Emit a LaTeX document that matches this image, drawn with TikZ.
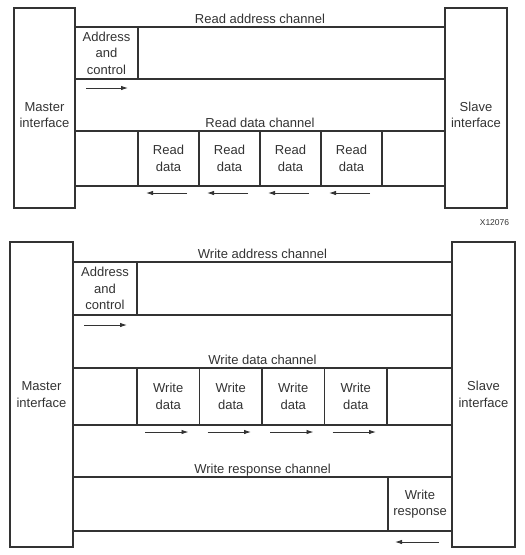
\documentclass[tikz,border=0pt]{standalone}
\usepackage{fontspec}
\setmainfont{Liberation Sans}
\usetikzlibrary{positioning, arrows.meta}

\begin{document}
\begin{tikzpicture}[
    x=1pt, y=-1pt,
    every node/.style={font=\fontsize{13}{16.5}\selectfont, text=black!80},
    iface/.style={rectangle, draw=black!80, line width=1.1pt, align=center, inner sep=0pt, outer sep=0pt},
    packet/.style={rectangle, draw=black!80, line width=1.1pt, align=center, inner sep=0pt, outer sep=0pt, minimum height=55pt},
    chan/.style={draw=black!80, line width=1.1pt},
    chanlabel/.style={above, text depth=0pt},
    flow/.style={black!80, line width=0.9pt, -{Latex[length=7pt,width=4.5pt]}}
]
\useasboundingbox (0,0) rectangle (525,555);

% Read transaction
\node (mread) [iface, minimum width=61pt, minimum height=200pt,
  label={[align=center, yshift=-7pt]center:{Master\\interface}}] at (44.5,108) {};
\node (sread) [iface, minimum width=62pt, minimum height=200pt,
  label={[align=center, yshift=-7pt]center:{Slave\\interface}}] at (476,108) {};

\draw [chan] (mread.east |- 0,27) -- node[chanlabel] {Read address channel} (sread.west |- 0,27);
\draw [chan] (mread.east |- 0,79) -- (sread.west |- 0,79);
\draw [chan] (mread.east |- 0,131) -- node[chanlabel] {Read data channel} (sread.west |- 0,131);
\draw [chan] (mread.east |- 0,186) -- (sread.west |- 0,186);

\node (araddr) [packet, anchor=north west, minimum width=63pt, minimum height=52pt] at (mread.east |- 0,27) {Address\\and\\control};
\node (rd1) [packet, anchor=north west, minimum width=61pt] at (138,131) {Read\\data};
\node (rd2) [packet, minimum width=61pt, right=0pt of rd1] {Read\\data};
\node (rd3) [packet, minimum width=61pt, right=0pt of rd2] {Read\\data};
\node (rd4) [packet, minimum width=61pt, right=0pt of rd3] {Read\\data};

% Arrows
\draw [flow] ([xshift=11pt,yshift=-9pt]araddr.south west) -- ([xshift=-10pt,yshift=-9pt]araddr.south east);
\foreach \n in {rd1,rd2,rd3,rd4}
  \draw [flow] ([xshift=-12pt,yshift=-7pt]\n.south east) -- ([xshift=8pt,yshift=-7pt]\n.south west);

\node (fignum) [font=\fontsize{8.5}{10}\selectfont] at (494.5,223) {X12076};

% Write transaction
\node (mwrite) [iface, minimum width=63pt, minimum height=305pt] at (41.5,394.5) {Master\\interface};
\node (swrite) [iface, minimum width=63pt, minimum height=305pt] at (483.5,394.5) {Slave\\interface};

\draw [chan] (mwrite.east |- 0,262) -- node[chanlabel] {Write address channel} (swrite.west |- 0,262);
\draw [chan] (mwrite.east |- 0,315) -- (swrite.west |- 0,315);
\draw [chan] (mwrite.east |- 0,368) -- node[chanlabel] {Write data channel} (swrite.west |- 0,368);
\draw [chan] (mwrite.east |- 0,425) -- (swrite.west |- 0,425);
\draw [chan] (mwrite.east |- 0,477) -- node[chanlabel] {Write response channel} (swrite.west |- 0,477);
\draw [chan] (mwrite.east |- 0,531) -- (swrite.west |- 0,531);

\node (awaddr) [packet, anchor=north west, minimum width=64pt, minimum height=53pt] at (mwrite.east |- 0,262) {Address\\and\\control};
\node (wd1) [packet, anchor=north west, minimum width=62.5pt, minimum height=57pt] at (137,368) {Write\\data};
\node (wd2) [packet, minimum width=62.5pt, minimum height=57pt, right=0pt of wd1] {Write\\data};
\node (wd3) [packet, minimum width=62.5pt, minimum height=57pt, right=0pt of wd2] {Write\\data};
\node (wd4) [packet, minimum width=62.5pt, minimum height=57pt, right=0pt of wd3] {Write\\data};
\node (wresp) [packet, anchor=north east, minimum width=64pt, minimum height=54pt] at (swrite.west |- 0,477) {Write\\response};

% Arrows
\draw [flow] ([xshift=11pt,yshift=-10pt]awaddr.south west) -- ([xshift=-10pt,yshift=-10pt]awaddr.south east);
\foreach \n in {wd1,wd2,wd3,wd4}
  \draw [flow] ([xshift=8pt,yshift=-7pt]\n.south west) -- ([xshift=-11pt,yshift=-7pt]\n.south east);
\draw [flow] ([xshift=-13pt,yshift=-11pt]wresp.south east) -- ([xshift=7pt,yshift=-11pt]wresp.south west);

\end{tikzpicture}
\end{document}
